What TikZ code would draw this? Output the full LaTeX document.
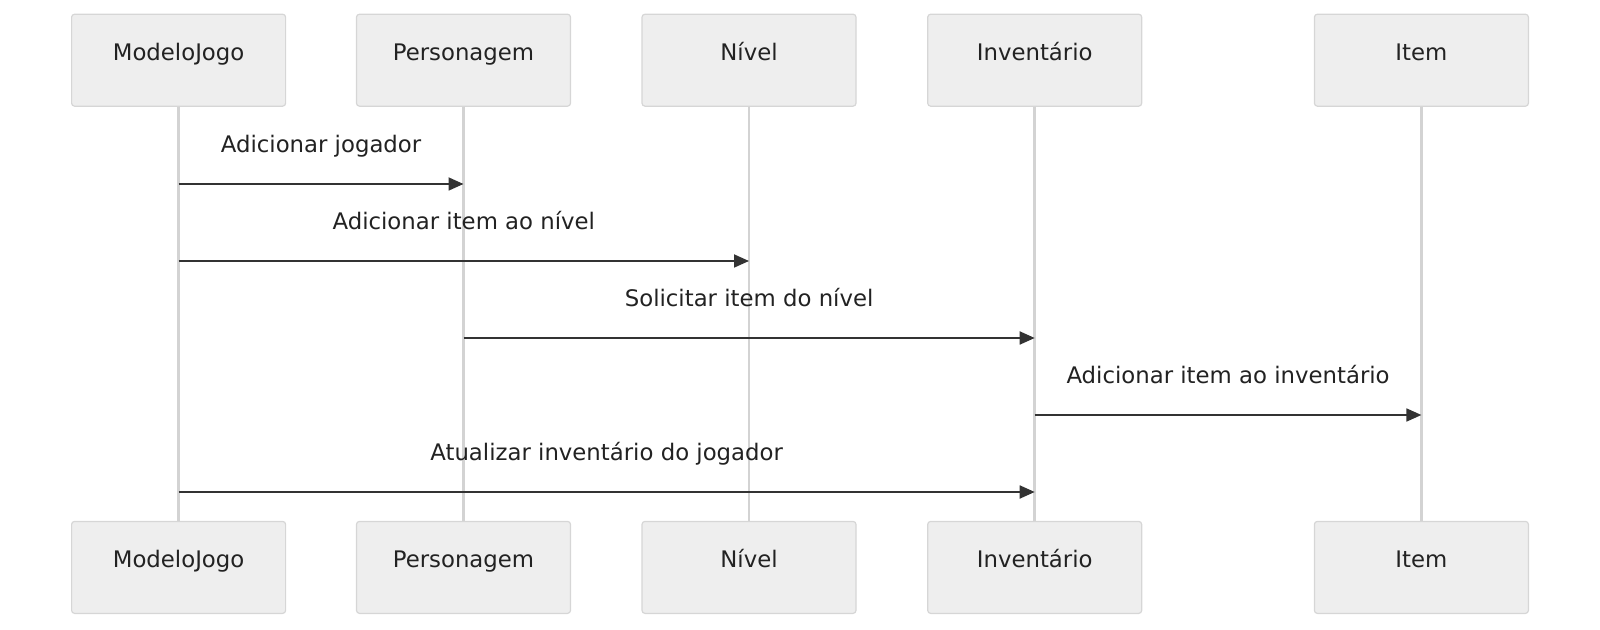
\documentclass[tikz,border=0pt]{standalone}
\usepackage{fontspec}
\setmainfont{DejaVu Sans}
\definecolor{boxFill}{HTML}{EEEEEE}
\definecolor{boxLine}{HTML}{D6D6D6}
\definecolor{lifeGray}{HTML}{D3D3D3}
\definecolor{msgDark}{HTML}{333333}
\definecolor{txtDark}{HTML}{222222}
\usetikzlibrary{arrows.meta, positioning}

\begin{document}
\begin{tikzpicture}[x=0.5pt, y=-0.5pt, every node/.style={font=\fontsize{11.4}{13}\selectfont, text=txtDark},
  partbox/.style={draw=boxLine, fill=boxFill, line width=0.6pt, rounded corners=1.5pt, minimum width=107pt, minimum height=46pt, text height=8pt, text depth=8pt, inner sep=0pt},
  lifeline/.style={draw=lifeGray, line width=1.4pt},
  msg/.style={draw=msgDark, line width=0.9pt, -{Triangle[length=7.5pt,width=6.5pt]}},
  msglabel/.style={above=13pt, inner sep=0pt, text height=8pt, text depth=2.5pt}]
  \useasboundingbox (0,0) rectangle (1600,630);

  % participants, top row
  \node[partbox] (mjT) at (178.6,60.2) {ModeloJogo};
  \node[partbox] (peT) at (463.5,60.2) {Personagem};
  \node[partbox] (niT) at (749,60.2) {Nível};
  \node[partbox] (inT) at (1034.7,60.2) {Inventário};
  \node[partbox] (itT) at (1421.4,60.2) {Item};

  % participants, bottom row
  \node[partbox] (mjB) at (178.6,567.4) {ModeloJogo};
  \node[partbox] (peB) at (463.5,567.4) {Personagem};
  \node[partbox] (niB) at (749,567.4) {Nível};
  \node[partbox] (inB) at (1034.7,567.4) {Inventário};
  \node[partbox] (itB) at (1421.4,567.4) {Item};

  % lifelines
  \foreach \p in {mj, pe, ni, in, it}
    \draw[lifeline] (\p T.south) -- (\p B.north);

  % message rows
  \coordinate (r1) at (0,184);
  \coordinate (r2) at (0,261);
  \coordinate (r3) at (0,338);
  \coordinate (r4) at (0,415);
  \coordinate (r5) at (0,492);

  \draw[msg] (mjT |- r1) -- node[msglabel] {Adicionar jogador} (peT |- r1);
  \draw[msg] (mjT |- r2) -- node[msglabel] {Adicionar item ao nível} (niT |- r2);
  \draw[msg] (peT |- r3) -- node[msglabel] {Solicitar item do nível} (inT |- r3);
  \draw[msg] (inT |- r4) -- node[msglabel] {Adicionar item ao inventário} (itT |- r4);
  \draw[msg] (mjT |- r5) -- node[msglabel] {Atualizar inventário do jogador} (inT |- r5);
\end{tikzpicture}
\end{document}
